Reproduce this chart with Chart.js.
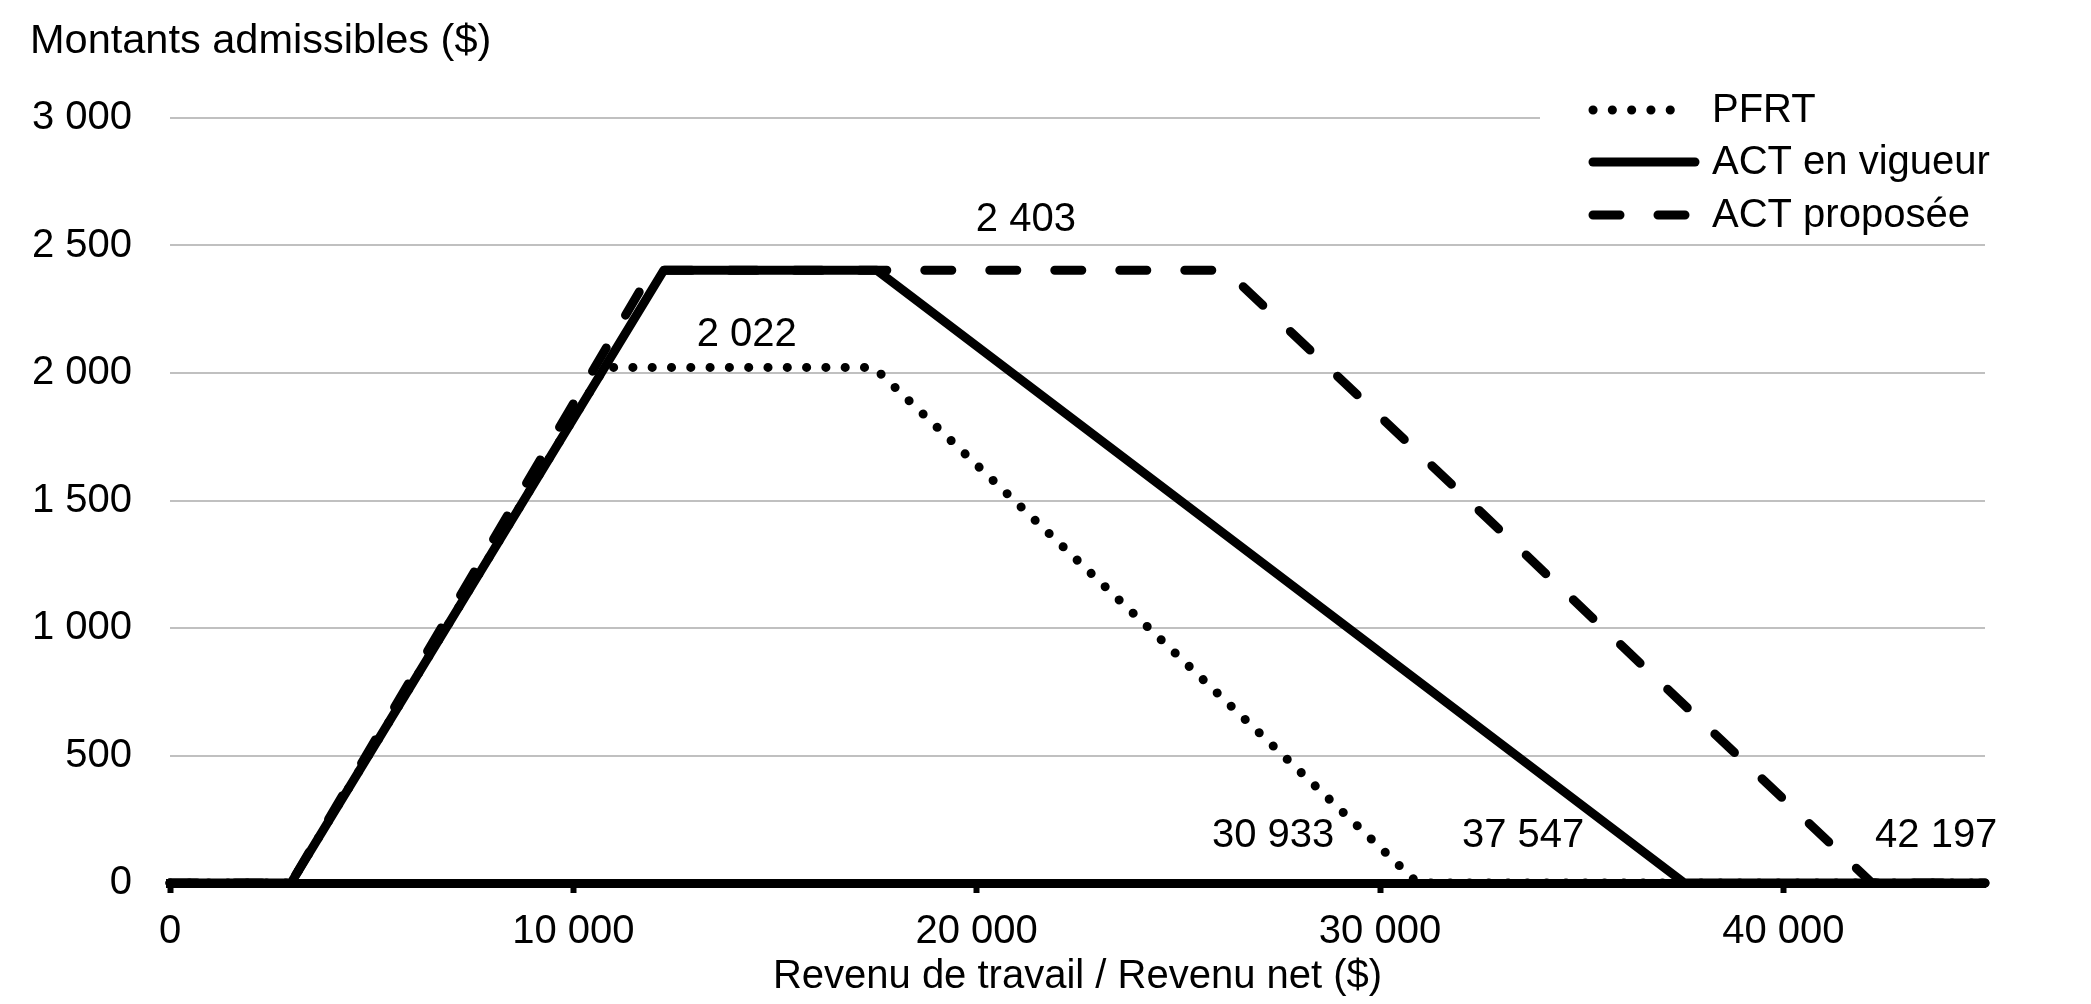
<!DOCTYPE html>
<html lang="fr">
<head>
  <meta charset="UTF-8">
  <title>Montants admissibles</title>
  <style>
    body { margin: 0; background: #fff; }
    #wrap { width: 2091px; height: 1004px; }
  </style>
</head>
<body>
  <script src="https://cdn.jsdelivr.net/npm/chart.js"></script>
  <div id="wrap"><canvas id="myChart"></canvas></div>

<script>
  // income breakpoints ($) and amounts ($) for each program
  const incomePFRT = [0, 3000, 10777, 17453, 30933, 45000];
  const amountPFRT = [0, 0, 2022, 2022, 0, 0];
  const incomeCurrent = [0, 3000, 12242, 17522, 37547, 45000];
  const amountCurrent = [0, 0, 2403, 2403, 0, 0];
  const incomeProposed = [0, 3000, 11950, 26177, 42197, 45000];
  const amountProposed = [0, 0, 2403, 2403, 0, 0];

  const seriesNames = ['PFRT', 'ACT en vigueur', 'ACT proposée'];
  const xTickValues = [0, 10000, 20000, 30000, 40000];
  const yTickValues = [0, 500, 1000, 1500, 2000, 2500, 3000];

  // value labels written on the chart
  const labelTexts = ['2 403', '2 022', '30 933', '37 547', '42 197'];
  const labelIncome = [21220, 14300, 27350, 33550, 43790];
  const labelAmount = [2600, 2150, 184, 184, 184];

  const FONT = '"Liberation Sans", Arial, sans-serif';
  const fmt = v => String(v).replace(/\B(?=(\d{3})+(?!\d))/g, ' ');
  const toPoints = (xs, ys) => xs.map((x, i) => ({ x: x, y: ys[i] }));

  const styles = [
    { borderDash: [0.1, 19.2] },
    { borderDash: [] },
    { borderDash: [27, 38] }
  ];

  const extras = {
    id: 'extras',
    beforeDatasetsDraw(chart) {
      // legend box hides the top gridline behind it
      const ctx = chart.ctx;
      ctx.save();
      ctx.fillStyle = '#ffffff';
      ctx.fillRect(1540, 86, 520, 152);
      ctx.restore();
    },
    afterDraw(chart) {
      const ctx = chart.ctx;
      const xs = chart.scales.x, ys = chart.scales.y;
      ctx.save();
      ctx.fillStyle = '#000';
      ctx.font = '41.5px ' + FONT;
      ctx.textAlign = 'left';
      ctx.textBaseline = 'alphabetic';
      ctx.fillText('Montants admissibles ($)', 30, 53);

      ctx.font = '40px ' + FONT;
      ctx.textAlign = 'center';
      ctx.textBaseline = 'middle';
      labelTexts.forEach((t, i) => {
        ctx.fillText(t, xs.getPixelForValue(labelIncome[i]), ys.getPixelForValue(labelAmount[i]));
      });

      // legend
      const rows = [110, 162, 215];
      const sample = [[1593, 1689], [1593, 1695], [1593, 1686]];
      ctx.strokeStyle = '#000';
      ctx.lineWidth = 9;
      ctx.lineCap = 'round';
      seriesNames.forEach((name, i) => {
        ctx.setLineDash(styles[i].borderDash);
        ctx.beginPath();
        ctx.moveTo(sample[i][0], rows[i]);
        ctx.lineTo(sample[i][1], rows[i]);
        ctx.stroke();
        ctx.setLineDash([]);
        ctx.textAlign = 'left';
        ctx.fillText(name, 1712, rows[i] + 1);
      });
      ctx.restore();
    }
  };

  const config = {
    type: 'line',
    data: {
      datasets: [
        { label: seriesNames[0], data: toPoints(incomePFRT, amountPFRT), order: 3 },
        { label: seriesNames[1], data: toPoints(incomeCurrent, amountCurrent), order: 1 },
        { label: seriesNames[2], data: toPoints(incomeProposed, amountProposed), order: 2 }
      ].map((d, i) => Object.assign(d, {
        borderColor: '#000',
        borderWidth: 9,
        borderDash: styles[i].borderDash,
        borderCapStyle: 'round',
        borderJoinStyle: 'round',
        pointRadius: 0,
        tension: 0,
        fill: false,
        clip: false
      }))
    },
    options: {
      responsive: true,
      maintainAspectRatio: false,
      animation: false,
      devicePixelRatio: 1,
      layout: { padding: { left: 0, right: 106, top: 118, bottom: 0 } },
      plugins: { legend: { display: false }, tooltip: { enabled: false } },
      scales: {
        x: {
          type: 'linear',
          min: 0,
          max: 45000,
          afterBuildTicks: s => { s.ticks = xTickValues.map(v => ({ value: v })); },
          afterFit: s => { s.height = 121; },
          grid: { drawOnChartArea: false, drawTicks: true, tickLength: 10, tickWidth: 6, tickColor: '#000' },
          border: { display: true, color: '#000', width: 9 },
          ticks: { color: '#000', font: { family: FONT, size: 40 }, padding: 15, maxRotation: 0, callback: v => fmt(v) },
          title: {
            display: true,
            text: 'Revenu de travail / Revenu net ($)',
            color: '#000',
            font: { family: FONT, size: 40 },
            padding: { top: 0, bottom: 3 }
          }
        },
        y: {
          min: 0,
          max: 3000,
          afterBuildTicks: s => { s.ticks = yTickValues.map(v => ({ value: v })); },
          afterFit: s => { s.width = 170; },
          grid: { color: '#c0c0c0', lineWidth: 2, drawTicks: false },
          border: { display: false },
          ticks: { color: '#000', font: { family: FONT, size: 40 }, padding: 38, callback: v => fmt(v) }
        }
      }
    },
    plugins: [extras]
  };

  new Chart(document.getElementById('myChart'), config);
</script>
</body>
</html>
